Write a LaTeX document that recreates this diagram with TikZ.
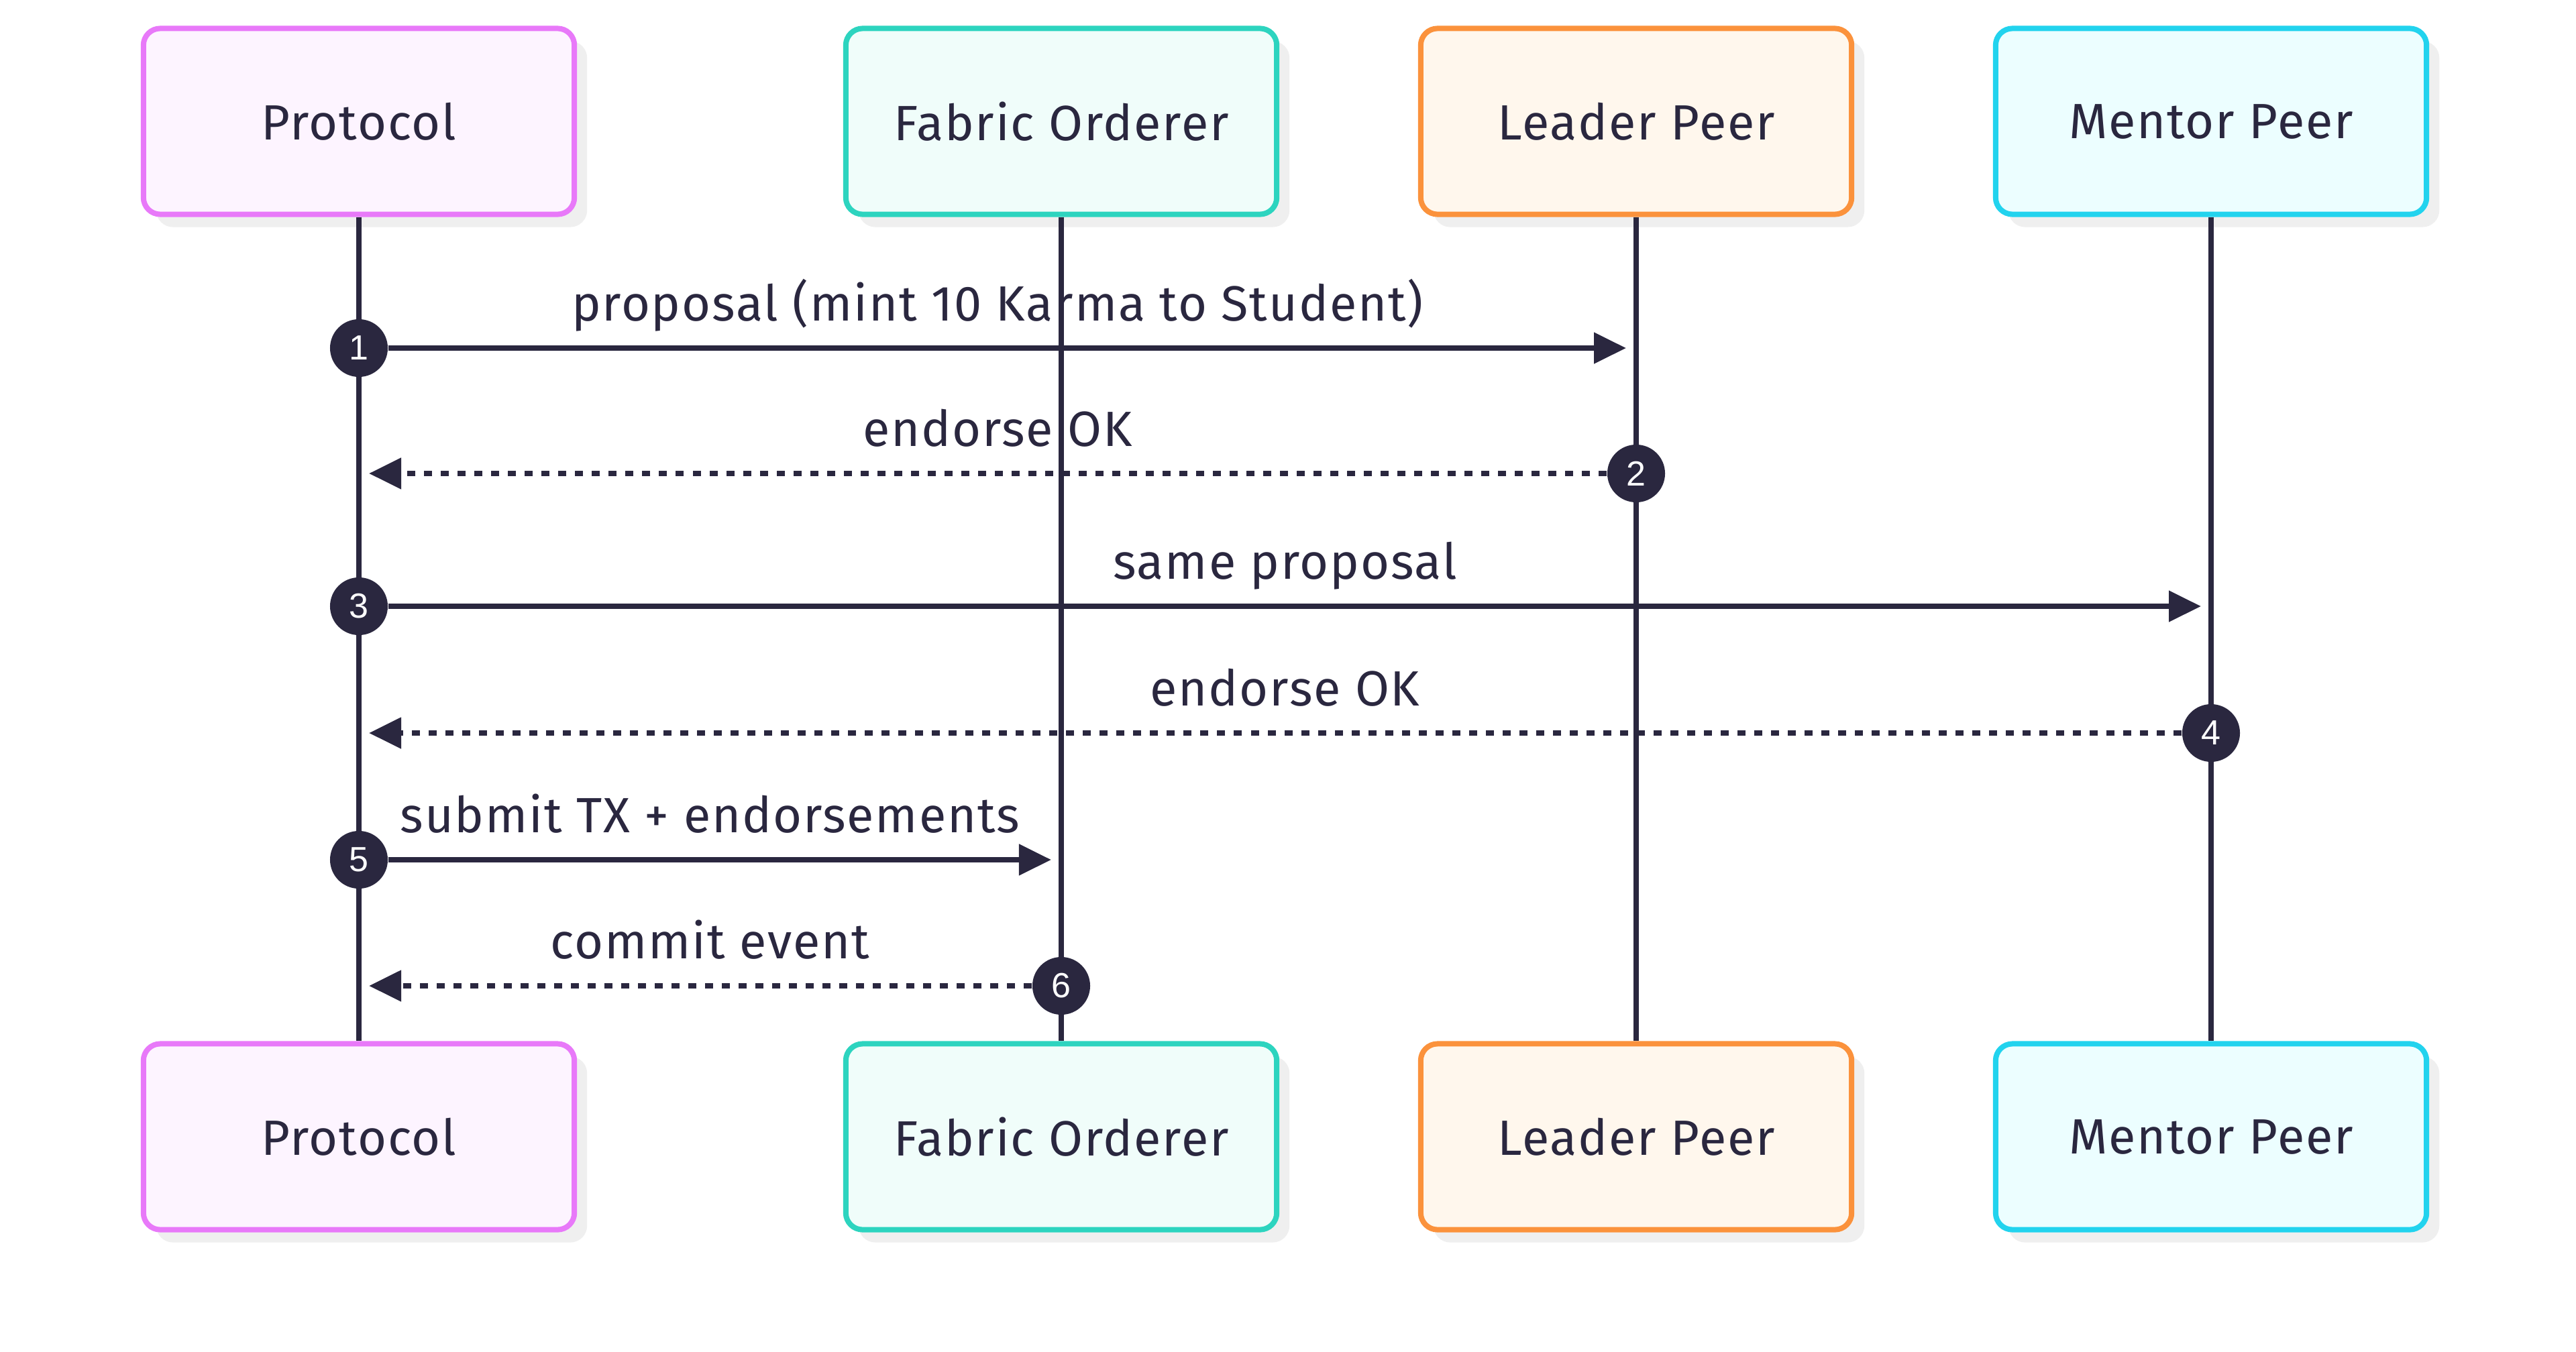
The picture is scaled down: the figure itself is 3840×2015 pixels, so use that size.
\documentclass[tikz,border=0pt]{standalone}
\usepackage{fontspec}
\setmainfont[LetterSpace=2.5]{Fira Sans}
\newfontfamily\numfont{Liberation Sans}
\usetikzlibrary{calc,arrows.meta,shadows}

\definecolor{ink}{HTML}{2A273F}
\definecolor{protoline}{HTML}{E879F9}
\definecolor{protofill}{HTML}{FDF4FF}
\definecolor{ordline}{HTML}{2DD4BF}
\definecolor{ordfill}{HTML}{F0FDFA}
\definecolor{leadline}{HTML}{FB923C}
\definecolor{leadfill}{HTML}{FFF7ED}
\definecolor{mentline}{HTML}{22D3EE}
\definecolor{mentfill}{HTML}{ECFEFF}
\definecolor{shade}{HTML}{EFEFEF}

\def\labelfont{\fontsize{21pt}{25pt}\selectfont}

\tikzset{
  actor/.style={draw=#1line, fill=#1fill, line width=0.08cm, rounded corners=0.25cm,
    minimum width=6.42cm, minimum height=2.77cm, inner sep=0pt, text=ink, font=\labelfont,
    drop shadow={shadow xshift=0.19cm, shadow yshift=-0.19cm, fill=shade, opacity=1}},
  life/.style={draw=ink, line width=0.08cm},
  nummark/.style={circle, fill=ink, text=white, minimum size=0.86cm, inner sep=0pt,
    font=\numfont\fontsize{14.8pt}{16pt}\selectfont},
  call/.style={draw=ink, line width=0.08cm, shorten >=0.15cm,
    -{Triangle[length=0.48cm,width=0.45cm]}},
  reply/.style={call, dash pattern=on 0.12cm off 0.13cm},
  msglabel/.style={text=ink, anchor=base, inner sep=0pt, font=\labelfont}
}

% participant: name, x, title
\def\actor(#1,#2,#3){
  \node[actor=#1] (#1_top) at (#2,181) {#3};
  \node[actor=#1] (#1_bot) at (#2,1695) {#3};
  \draw[life] (#1_top) -- (#1_bot);
}
% message: number, from, to, y, text, style
\def\msg(#1,#2,#3,#4,#5,#6){
  \node[nummark] (m#1) at (#2_top |- 0,#4) {#1};
  \draw[#6] (m#1) -- (m#1 -| #3_top);
  \node[msglabel] (l#1) at ($(m#1)!0.5!(m#1 -| #3_top)+(0,-41)$) {#5};
}

\begin{document}
\begin{tikzpicture}[x=0.01cm, y=-0.01cm]
\fill[white] (0,0) rectangle (3840,2015);
\useasboundingbox (0,0) rectangle (3840,2015);
\actor(proto,535,Protocol)
\actor(ord,1582,Fabric Orderer)
\actor(lead,2439,Leader Peer)
\actor(ment,3296,Mentor Peer)
\msg(1,proto,lead,519,proposal (mint 10 Karma to Student),call)
\msg(2,lead,proto,706,endorse OK,reply)
\msg(3,proto,ment,904,same proposal,call)
\msg(4,ment,proto,1093,endorse OK,reply)
\msg(5,proto,ord,1282,submit TX + endorsements,call)
\msg(6,ord,proto,1470,commit event,reply)
\end{tikzpicture}
\end{document}
